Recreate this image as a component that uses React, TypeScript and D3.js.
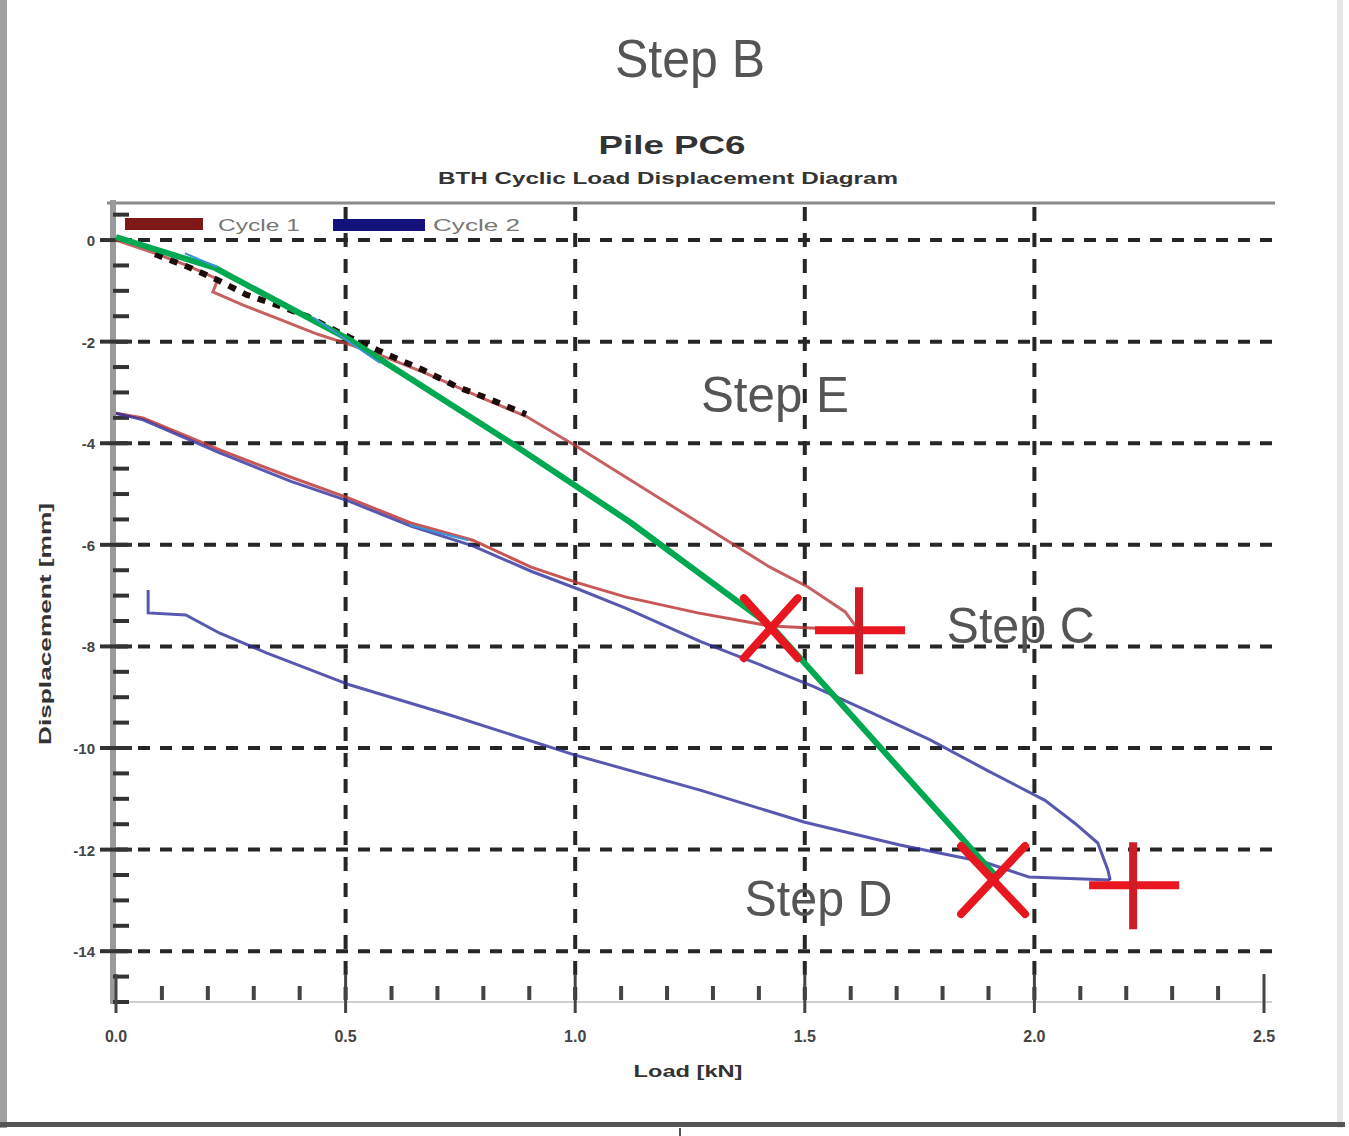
import React from 'react';
import * as d3 from 'd3';

// ---- data (Load [kN], Displacement [mm]) ----
const xTickValues = [0, 0.5, 1.0, 1.5, 2.0, 2.5];
const xTickLabels = ['0.0', '0.5', '1.0', '1.5', '2.0', '2.5'];
const yTickValues = [0, -2, -4, -6, -8, -10, -12, -14];
const yTickLabels = ['0', '-2', '-4', '-6', '-8', '-10', '-12', '-14'];

const seriesNames = ['Cycle 1', 'Cycle 2'];

const cycle1Loading: [number, number][] = [
  [0, 0], [0.085, -0.26], [0.157, -0.51], [0.222, -0.77], [0.211, -1.02],
  [0.277, -1.28], [0.351, -1.54], [0.438, -1.85], [0.499, -2.03], [0.56, -2.21],
  [0.669, -2.6], [0.808, -3.15], [0.893, -3.47], [1.006, -4.08], [1.215, -5.26],
  [1.424, -6.44], [1.507, -6.83], [1.588, -7.32], [1.614, -7.64],
];
const cycle1Unloading: [number, number][] = [
  [1.614, -7.68], [1.426, -7.6], [1.267, -7.34], [1.111, -7.03], [1.006, -6.75],
  [0.904, -6.44], [0.777, -5.91], [0.642, -5.57], [0.507, -5.08], [0.381, -4.67],
  [0.226, -4.13], [0.059, -3.5], [0, -3.41],
];
const cycle1Dotted: [number, number][] = [
  [0.085, -0.28], [0.157, -0.53], [0.222, -0.79], [0.285, -1.08], [0.351, -1.28],
  [0.416, -1.5], [0.488, -1.83], [0.56, -2.13], [0.669, -2.56], [0.743, -2.89],
  [0.808, -3.11], [0.893, -3.43],
];
const cycle2Loading: [number, number][] = [
  [0, -3.41], [0.059, -3.54], [0.226, -4.19], [0.381, -4.75], [0.507, -5.14],
  [0.642, -5.63], [0.777, -6.02], [0.904, -6.52], [1.006, -6.87], [1.111, -7.25],
  [1.272, -7.9], [1.405, -8.37], [1.522, -8.8], [1.646, -9.31], [1.773, -9.84],
  [1.897, -10.44], [2.023, -11.03], [2.088, -11.48], [2.138, -11.87], [2.16, -12.4],
  [2.165, -12.6],
];
const cycle2Unloading: [number, number][] = [
  [2.165, -12.6], [1.988, -12.54], [1.892, -12.25], [1.707, -11.91], [1.5, -11.46],
  [1.272, -10.83], [1.0, -10.14], [0.727, -9.35], [0.51, -8.76], [0.329, -8.13],
  [0.226, -7.74], [0.152, -7.38], [0.07, -7.34], [0.07, -6.89],
];
const greenTrend: [number, number][] = [
  [0, 0.06], [0.216, -0.55], [0.51, -1.97], [0.858, -3.98], [1.119, -5.55],
  [1.429, -7.62], [1.914, -12.5],
];
const blueMarks: [number, number][][] = [
  [[0.15, -0.26], [0.22, -0.53]],
  [[0.429, -1.52], [0.575, -2.42]],
  [[0.638, -5.61], [0.767, -5.91]],
];
const crossMarkers: [number, number][] = [[1.426, -7.64], [1.91, -12.6]];
const plusMarkers: [number, number][] = [[1.618, -7.68], [2.215, -12.7]];
const stepLabels = ['Step E', 'Step C', 'Step D'];
const stepPositions: [number, number][] = [[1.435, -3.38], [1.97, -7.94], [1.53, -13.3]];

export default function App() {
  const W = 1349, H = 1136;
  const x = d3.scaleLinear().domain([0, 2.5]).range([116, 1264]);
  const y = d3.scaleLinear().domain([-15, 0.69]).range([1002, 205]);
  const line = d3.line<[number, number]>().x(d => x(d[0])).y(d => y(d[1]));

  const xMinor = d3.range(0, 2.5001, 0.1).filter(v => Math.abs(v * 2 - Math.round(v * 2)) > 1e-6);
  const yMinor = d3.range(-15, 0.5001, 0.5).filter(v => Math.abs(v / 2 - Math.round(v / 2)) > 1e-6);

  const font = "'Liberation Sans', Arial, sans-serif";
  const red = '#e8161f';

  return (
    <svg width={W} height={H} style={{ position: 'absolute', left: 0, top: 0, background: '#fff' }} fontFamily={font}>
      <rect x={0} y={0} width={W} height={H} fill="#fff" />
      {/* outer frame */}
      <rect x={0} y={0} width={7} height={1128} fill="#a0a0a0" />
      <rect x={1337} y={0} width={6} height={1128} fill="#e6e6e6" />
      <rect x={0} y={1122} width={1345} height={5} fill="#555" />
      <rect x={679} y={1128} width={2} height={8} fill="#555" />

      {/* titles */}
      <text x={690} y={77} textAnchor="middle" fontSize={54} fill="#555" textLength={150} lengthAdjust="spacingAndGlyphs">Step B</text>
      <text x={672} y={154} textAnchor="middle" fontSize={26} fontWeight="bold" fill="#333" textLength={147} lengthAdjust="spacingAndGlyphs">Pile PC6</text>
      <text x={668} y={184} textAnchor="middle" fontSize={17} fontWeight="bold" fill="#333" textLength={460} lengthAdjust="spacingAndGlyphs">BTH Cyclic Load Displacement Diagram</text>

      {/* top border */}
      <line x1={107} x2={1275} y1={203} y2={203} stroke="#8a8a8a" strokeWidth={3} />
      {/* left axis */}
      <line x1={113} x2={113} y1={200} y2={1004} stroke="#9a9a9a" strokeWidth={6} />
      {/* bottom axis */}
      <line x1={113} x2={1272} y1={1002} y2={1002} stroke="#d0d0d0" strokeWidth={2} />

      {/* grid */}
      {yTickValues.map(v => (
        <line key={'gy' + v} x1={116} x2={1272} y1={y(v)} y2={y(v)} stroke="#262626" strokeWidth={4} strokeDasharray="12 10" />
      ))}
      {xTickValues.slice(1, 5).map(v => (
        <line key={'gx' + v} x1={x(v)} x2={x(v)} y1={207} y2={1000} stroke="#262626" strokeWidth={4} strokeDasharray="14 12" />
      ))}

      {/* y ticks */}
      {yTickValues.map((v, i) => (
        <g key={'yt' + v}>
          <line x1={100} x2={132} y1={y(v)} y2={y(v)} stroke="#333" strokeWidth={4} />
          <text x={95} y={y(v) + 6} textAnchor="end" fontSize={15} fontWeight="bold" fill="#444">{yTickLabels[i]}</text>
        </g>
      ))}
      {yMinor.map(v => (
        <line key={'ym' + v} x1={113} x2={129} y1={y(v)} y2={y(v)} stroke="#333" strokeWidth={4} />
      ))}
      {/* x ticks */}
      {xTickValues.map((v, i) => (
        <g key={'xt' + v}>
          <line x1={x(v)} x2={x(v)} y1={974} y2={1013} stroke="#444" strokeWidth={3} />
          <text x={x(v)} y={1042} textAnchor="middle" fontSize={16} fontWeight="bold" fill="#444">{xTickLabels[i]}</text>
        </g>
      ))}
      {xMinor.map(v => (
        <line key={'xm' + v} x1={x(v)} x2={x(v)} y1={986} y2={1000} stroke="#444" strokeWidth={4} />
      ))}

      {/* axis titles */}
      <text x={688} y={1077} textAnchor="middle" fontSize={17} fontWeight="bold" fill="#333" textLength={109} lengthAdjust="spacingAndGlyphs">Load [kN]</text>
      <text transform="translate(51,624) rotate(-90)" textAnchor="middle" fontSize={16} fontWeight="bold" fill="#333" textLength={242} lengthAdjust="spacingAndGlyphs">Displacement [mm]</text>

      {/* legend */}
      <line x1={125} x2={203} y1={224} y2={224} stroke="#801818" strokeWidth={12} />
      <text x={218} y={231} fontSize={17} fill="#777" textLength={82} lengthAdjust="spacingAndGlyphs">{seriesNames[0]}</text>
      <line x1={333} x2={425} y1={225} y2={225} stroke="#12127a" strokeWidth={12} />
      <text x={433} y={231} fontSize={17} fill="#777" textLength={87} lengthAdjust="spacingAndGlyphs">{seriesNames[1]}</text>

      {/* series */}
      <path d={line(cycle1Loading) || ''} fill="none" stroke="#b83a3a" strokeOpacity={0.8} strokeWidth={3} />
      <path d={line(cycle1Dotted) || ''} fill="none" stroke="#1e0c0c" strokeWidth={6} strokeDasharray="8 8" />
      <path d={line(cycle1Unloading) || ''} fill="none" stroke="#c03838" strokeOpacity={0.85} strokeWidth={3} />
      <path d={line(cycle2Loading) || ''} fill="none" stroke="#2e2e9e" strokeOpacity={0.8} strokeWidth={3} />
      <path d={line(cycle2Unloading) || ''} fill="none" stroke="#2e2e9e" strokeOpacity={0.8} strokeWidth={3} />

      {/* annotations */}
      <path d={line(greenTrend) || ''} fill="none" stroke="#00a94f" strokeWidth={6} strokeLinejoin="round" />
      {blueMarks.map((seg, i) => (
        <path key={'bm' + i} d={line(seg) || ''} fill="none" stroke="#3b93d6" strokeWidth={2} />
      ))}
      {crossMarkers.map((p, i) => {
        const cx = x(p[0]), cy = y(p[1]);
        const hw = i === 0 ? 27 : 32, hh = i === 0 ? 30 : 34;
        return (
          <g key={'cx' + i} stroke={red} strokeWidth={8} strokeLinecap="round">
            <line x1={cx - hw} y1={cy - hh} x2={cx + hw} y2={cy + hh} />
            <line x1={cx + hw} y1={cy - hh} x2={cx - hw} y2={cy + hh} />
          </g>
        );
      })}
      {plusMarkers.map((p, i) => {
        const cx = x(p[0]), cy = y(p[1]);
        return (
          <g key={'px' + i} stroke={red} strokeWidth={8}>
            <line x1={cx - 44} y1={cy} x2={cx + 46} y2={cy} />
            <line x1={cx} y1={cy - 43} x2={cx} y2={cy + 44} stroke="#d01c26" />
          </g>
        );
      })}
      {stepLabels.map((s, i) => (
        <text key={s} x={x(stepPositions[i][0])} y={y(stepPositions[i][1])} textAnchor="middle" fontSize={50} fill="#555" textLength={148} lengthAdjust="spacingAndGlyphs">{s}</text>
      ))}
    </svg>
  );
}
